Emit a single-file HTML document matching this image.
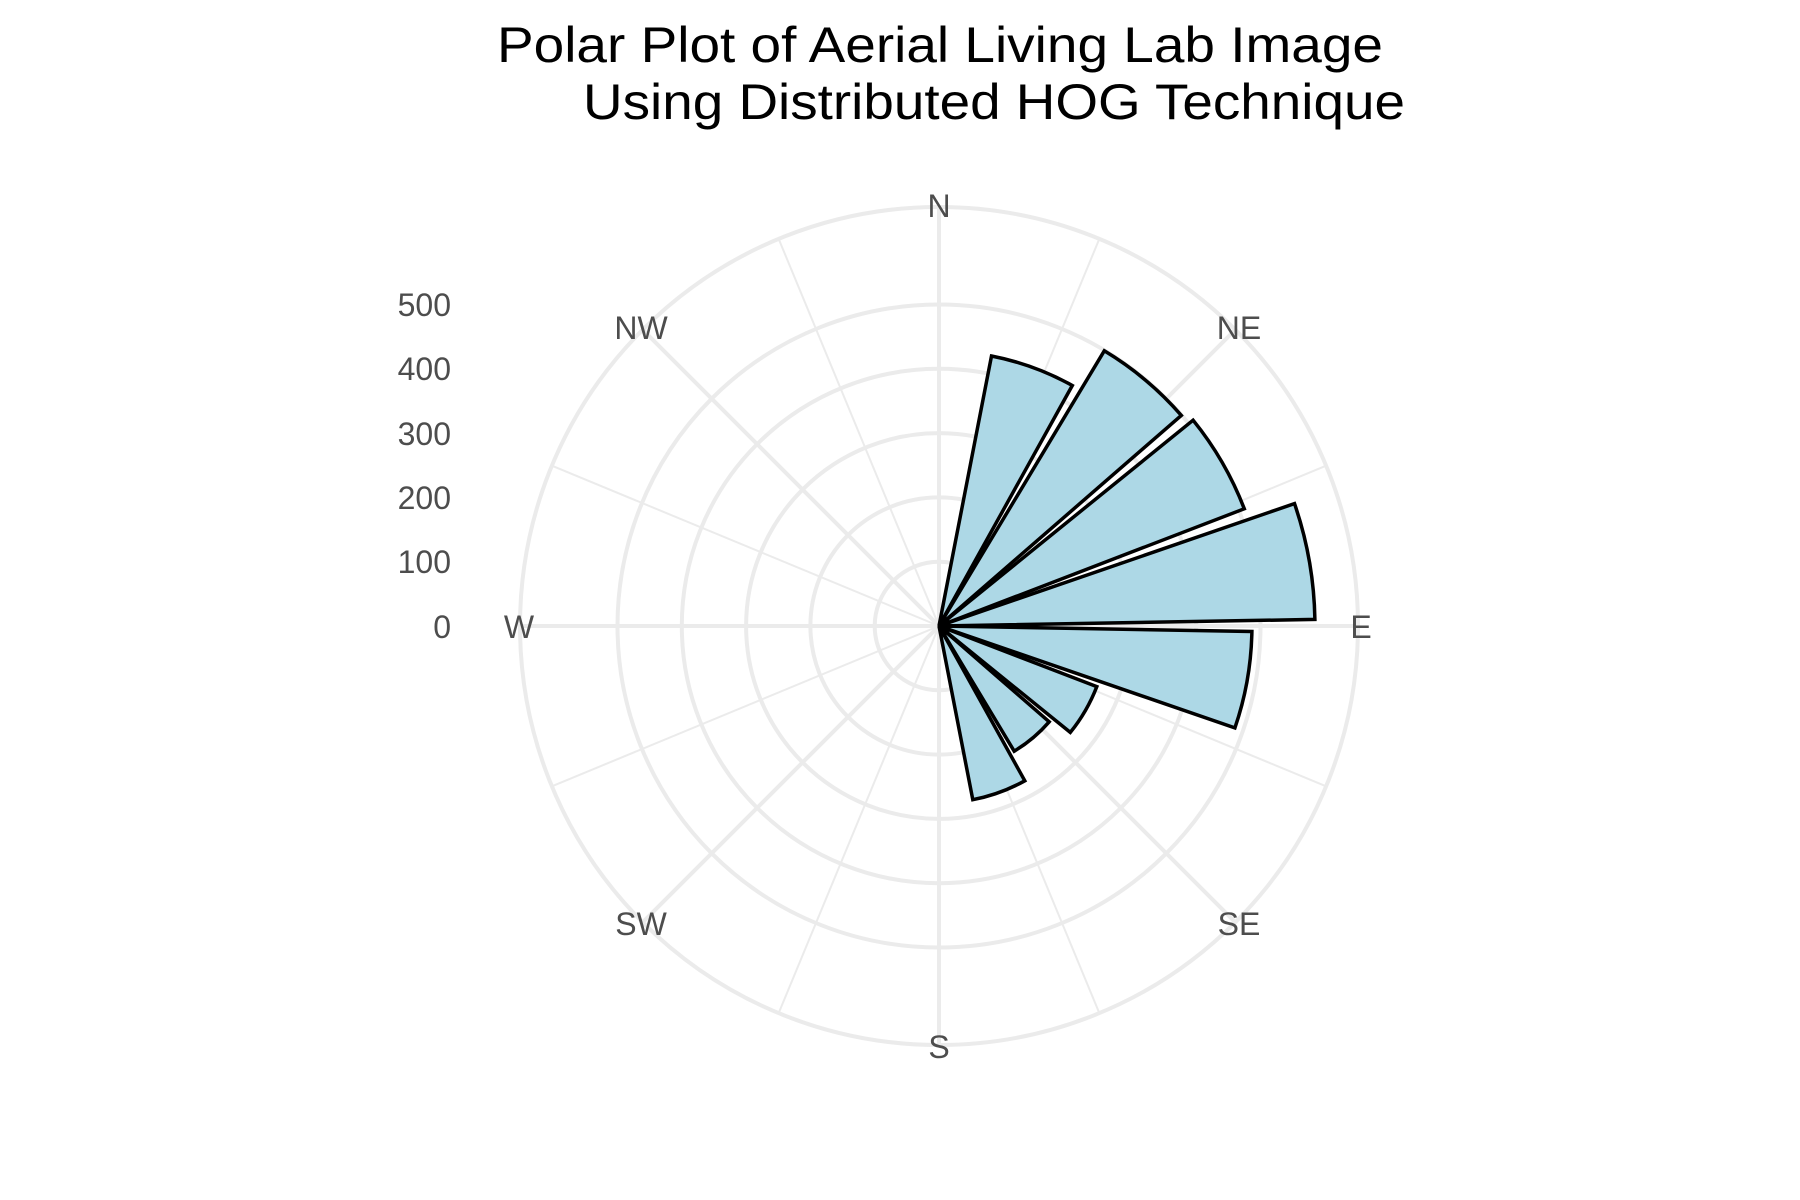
<!DOCTYPE html>
<html><head><meta charset="utf-8"><style>
html,body{margin:0;padding:0;background:#fff;}
svg{display:block;font-family:"Liberation Sans",sans-serif;}
</style></head><body>
<svg width="1800" height="1200" viewBox="0 0 1800 1200" xmlns="http://www.w3.org/2000/svg">
<rect width="1800" height="1200" fill="#fff"/>
<text x="497" y="62" font-size="50" fill="#000" textLength="886" lengthAdjust="spacingAndGlyphs">Polar Plot of Aerial Living Lab Image</text>
<text x="583" y="119" font-size="50" fill="#000" textLength="822" lengthAdjust="spacingAndGlyphs">Using Distributed HOG Technique</text>
<g transform="translate(939,626)" fill="none" stroke="#ebebeb">
  <g stroke-width="2">
    <line x1="0" y1="0" x2="0" y2="-419" transform="rotate(22.5)"/>
    <line x1="0" y1="0" x2="0" y2="-419" transform="rotate(67.5)"/>
    <line x1="0" y1="0" x2="0" y2="-419" transform="rotate(112.5)"/>
    <line x1="0" y1="0" x2="0" y2="-419" transform="rotate(157.5)"/>
    <line x1="0" y1="0" x2="0" y2="-419" transform="rotate(202.5)"/>
    <line x1="0" y1="0" x2="0" y2="-419" transform="rotate(247.5)"/>
    <line x1="0" y1="0" x2="0" y2="-419" transform="rotate(292.5)"/>
    <line x1="0" y1="0" x2="0" y2="-419" transform="rotate(337.5)"/>
  </g>
  <g stroke-width="4">
    <line x1="0" y1="0" x2="0" y2="-419" transform="rotate(0)"/>
    <line x1="0" y1="0" x2="0" y2="-419" transform="rotate(45)"/>
    <line x1="0" y1="0" x2="0" y2="-419" transform="rotate(90)"/>
    <line x1="0" y1="0" x2="0" y2="-419" transform="rotate(135)"/>
    <line x1="0" y1="0" x2="0" y2="-419" transform="rotate(180)"/>
    <line x1="0" y1="0" x2="0" y2="-419" transform="rotate(225)"/>
    <line x1="0" y1="0" x2="0" y2="-419" transform="rotate(270)"/>
    <line x1="0" y1="0" x2="0" y2="-419" transform="rotate(315)"/>
    <circle r="64.3"/><circle r="128.6"/><circle r="192.9"/><circle r="257.2"/><circle r="321.5"/><circle r="419"/>
  </g>
</g>
<g fill="#add8e6" stroke="#000" stroke-width="3.5" stroke-linejoin="miter">
  <path d="M939,626 L991.5,356 A275,275 0 0 1 1072.3,385.5 Z"/>
  <path d="M939,626 L1104.3,350.8 A321,321 0 0 1 1181.3,415.4 Z"/>
  <path d="M939,626 L1193.1,420.2 A327,327 0 0 1 1244.3,508.8 Z"/>
  <path d="M939,626 L1294.5,503.6 A376,376 0 0 1 1314.9,619.4 Z"/>
  <path d="M939,626 L1251.9,631.5 A313,313 0 0 1 1234.9,727.9 Z"/>
  <path d="M939,626 L1096.8,686.6 A169,169 0 0 1 1070.3,732.4 Z"/>
  <path d="M939,626 L1049.2,721.8 A146,146 0 0 1 1014.2,751.2 Z"/>
  <path d="M939,626 L1024.8,780.8 A177,177 0 0 1 972.8,799.7 Z"/>
</g>
<g font-size="32" fill="#4d4d4d" text-anchor="end">
  <text x="451" y="638">0</text>
  <text x="451" y="573">100</text>
  <text x="451" y="509">200</text>
  <text x="451" y="445">300</text>
  <text x="451" y="380">400</text>
  <text x="451" y="316">500</text>
</g>
<g font-size="32" fill="#4d4d4d" text-anchor="middle">
  <text x="939" y="217">N</text>
  <text x="1239" y="339">NE</text>
  <text x="1361" y="638">E</text>
  <text x="1239" y="935">SE</text>
  <text x="939" y="1058">S</text>
  <text x="641" y="935">SW</text>
  <text x="519" y="638">W</text>
  <text x="641" y="339">NW</text>
</g>
</svg>
</body></html>
